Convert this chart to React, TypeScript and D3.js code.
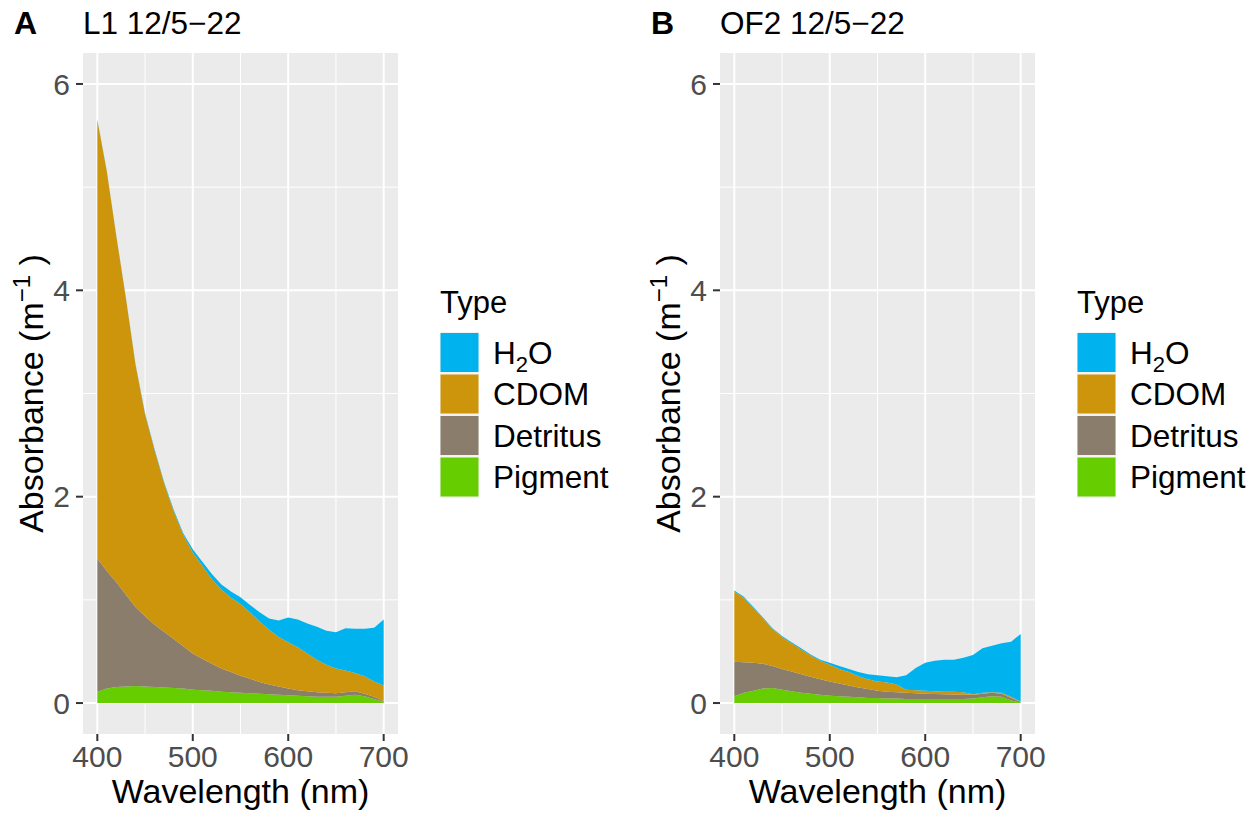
import React from 'react';
import * as d3 from 'd3';

const WAVELENGTHS = [400, 410, 420, 430, 440, 450, 460, 470, 480, 490, 500, 510, 520, 530, 540, 550, 560, 570, 580, 590, 600, 610, 620, 630, 640, 650, 660, 670, 680, 690, 700];

const TYPES = ['H2O', 'CDOM', 'Detritus', 'Pigment'];
const TYPE_COLORS = ['#00B2EE', '#CD950C', '#8B7D6B', '#66CD00'];
const STACK_ORDER = ['Pigment', 'Detritus', 'CDOM', 'H2O'];

const X_TICKS = [400, 500, 600, 700];
const X_MINOR = [450, 550, 650];
const Y_TICKS = [0, 2, 4, 6];
const Y_MINOR = [1, 3, 5];

// Panel A: L1 12/5-22
const L1_PIGMENT = [0.11, 0.14, 0.155, 0.16, 0.165, 0.16, 0.155, 0.15, 0.145, 0.14, 0.13, 0.125, 0.12, 0.11, 0.105, 0.10, 0.095, 0.09, 0.085, 0.08, 0.075, 0.07, 0.065, 0.06, 0.06, 0.06, 0.07, 0.08, 0.065, 0.04, 0.01];
const L1_DETRITUS = [1.29, 1.14, 1.015, 0.89, 0.765, 0.68, 0.605, 0.54, 0.475, 0.41, 0.35, 0.305, 0.26, 0.225, 0.195, 0.165, 0.14, 0.115, 0.095, 0.08, 0.065, 0.055, 0.05, 0.045, 0.04, 0.035, 0.035, 0.035, 0.025, 0.02, 0.01];
const L1_CDOM = [4.25, 3.87, 3.35, 2.87, 2.35, 1.96, 1.69, 1.44, 1.24, 1.08, 0.98, 0.90, 0.82, 0.765, 0.72, 0.695, 0.645, 0.585, 0.53, 0.48, 0.45, 0.415, 0.365, 0.315, 0.27, 0.24, 0.21, 0.175, 0.17, 0.15, 0.15];
const L1_H2O = [0.006, 0.005, 0.005, 0.006, 0.007, 0.009, 0.01, 0.011, 0.013, 0.016, 0.03, 0.04, 0.05, 0.05, 0.06, 0.065, 0.07, 0.09, 0.11, 0.16, 0.24, 0.27, 0.29, 0.32, 0.33, 0.35, 0.41, 0.43, 0.46, 0.52, 0.64];

// Panel B: OF2 12/5-22
const OF2_PIGMENT = [0.065, 0.10, 0.12, 0.14, 0.145, 0.13, 0.115, 0.10, 0.09, 0.08, 0.07, 0.065, 0.06, 0.055, 0.05, 0.05, 0.045, 0.045, 0.04, 0.04, 0.04, 0.04, 0.04, 0.04, 0.04, 0.045, 0.055, 0.065, 0.06, 0.025, 0.005];
const OF2_DETRITUS = [0.335, 0.295, 0.27, 0.24, 0.215, 0.20, 0.19, 0.18, 0.165, 0.15, 0.14, 0.125, 0.11, 0.095, 0.085, 0.07, 0.065, 0.06, 0.06, 0.055, 0.05, 0.048, 0.045, 0.043, 0.04, 0.035, 0.035, 0.035, 0.03, 0.025, 0.005];
const OF2_CDOM = [0.68, 0.625, 0.53, 0.44, 0.36, 0.31, 0.275, 0.24, 0.205, 0.18, 0.16, 0.14, 0.13, 0.11, 0.095, 0.09, 0.09, 0.075, 0.03, 0.03, 0.03, 0.027, 0.025, 0.027, 0.025, 0.005, 0.01, 0.005, 0.01, 0.01, 0.005];
const OF2_H2O = [0.01, 0.01, 0.01, 0.01, 0.005, 0.01, 0.01, 0.01, 0.01, 0.01, 0.02, 0.03, 0.03, 0.04, 0.05, 0.06, 0.06, 0.07, 0.14, 0.215, 0.27, 0.295, 0.31, 0.31, 0.335, 0.38, 0.43, 0.45, 0.48, 0.535, 0.655];

const FONT = '"Liberation Sans", Arial, Helvetica, sans-serif';

type Series = { H2O: number[]; CDOM: number[]; Detritus: number[]; Pigment: number[] };

const PANELS = [
  { tag: 'A', title: 'L1 12/5\u221222', left: 83, series: { H2O: L1_H2O, CDOM: L1_CDOM, Detritus: L1_DETRITUS, Pigment: L1_PIGMENT } as Series },
  { tag: 'B', title: 'OF2 12/5\u221222', left: 720, series: { H2O: OF2_H2O, CDOM: OF2_CDOM, Detritus: OF2_DETRITUS, Pigment: OF2_PIGMENT } as Series },
];

const PANEL_W = 315;
const PANEL_TOP = 53;
const PANEL_BOTTOM = 734;

function Panel({ idx, tag, title, left, series }: { idx: number; tag: string; title: string; left: number; series: Series }) {
  const right = left + PANEL_W;
  const x = d3.scaleLinear().domain([385, 715]).range([left, right]);
  const y = d3.scaleLinear().domain([-0.3, 6.3]).range([PANEL_BOTTOM, PANEL_TOP]);

  const rows = WAVELENGTHS.map((w, i) => ({
    w,
    H2O: series.H2O[i],
    CDOM: series.CDOM[i],
    Detritus: series.Detritus[i],
    Pigment: series.Pigment[i],
  }));
  const stacked = d3.stack<any>().keys(STACK_ORDER)(rows);
  const area = d3
    .area<any>()
    .x((d) => x(d.data.w))
    .y0((d) => y(d[0]))
    .y1((d) => y(d[1]));

  const tickFs = 30;
  const titleFs = 34;
  const legendX = left + 357;
  const keyTop = 333;
  const keyPitch = 41.5;
  const labelFs = 31.5;
  const clipId = `clip-${idx}`;

  return (
    <g>
      <defs>
        <clipPath id={clipId}>
          <rect x={left} y={PANEL_TOP} width={PANEL_W} height={PANEL_BOTTOM - PANEL_TOP} />
        </clipPath>
      </defs>
      <rect x={left} y={PANEL_TOP} width={PANEL_W} height={PANEL_BOTTOM - PANEL_TOP} fill="#EBEBEB" />
      {X_MINOR.map((t) => (
        <line key={'xm' + t} x1={x(t)} x2={x(t)} y1={PANEL_TOP} y2={PANEL_BOTTOM} stroke="#fff" strokeWidth={1} />
      ))}
      {Y_MINOR.map((t) => (
        <line key={'ym' + t} x1={left} x2={right} y1={y(t)} y2={y(t)} stroke="#fff" strokeWidth={1} />
      ))}
      {X_TICKS.map((t) => (
        <line key={'xg' + t} x1={x(t)} x2={x(t)} y1={PANEL_TOP} y2={PANEL_BOTTOM} stroke="#fff" strokeWidth={2} />
      ))}
      {Y_TICKS.map((t) => (
        <line key={'yg' + t} x1={left} x2={right} y1={y(t)} y2={y(t)} stroke="#fff" strokeWidth={2} />
      ))}
      <g clipPath={`url(#${clipId})`}>
        {stacked.map((s) => (
          <path key={s.key} d={area(s) || ''} fill={TYPE_COLORS[TYPES.indexOf(s.key)]} />
        ))}
      </g>
      {/* x axis */}
      {X_TICKS.map((t) => (
        <g key={'xt' + t}>
          <line x1={x(t)} x2={x(t)} y1={PANEL_BOTTOM} y2={PANEL_BOTTOM + 7} stroke="#333" strokeWidth={2} />
          <text x={x(t)} y={767} textAnchor="middle" fontSize={tickFs} fill="#4D4D4D" fontFamily={FONT}>
            {t}
          </text>
        </g>
      ))}
      {/* y axis */}
      {Y_TICKS.map((t) => (
        <g key={'yt' + t}>
          <line x1={left - 7} x2={left} y1={y(t)} y2={y(t)} stroke="#333" strokeWidth={2} />
          <text x={left - 13} y={y(t) + tickFs * 0.36} textAnchor="end" fontSize={tickFs} fill="#4D4D4D" fontFamily={FONT}>
            {t}
          </text>
        </g>
      ))}
      <text x={(left + right) / 2} y={803} textAnchor="middle" fontSize={titleFs} fill="#000" fontFamily={FONT}>
        Wavelength (nm)
      </text>
      <text
        transform={`translate(${left - 40},${(PANEL_TOP + PANEL_BOTTOM) / 2}) rotate(-90)`}
        textAnchor="middle"
        fontSize={titleFs}
        fill="#000"
        fontFamily={FONT}
      >
        Absorbance (m
        <tspan dy={-13} fontSize={24}>{'\u22121'}</tspan>
        <tspan dy={13}>{' )'}</tspan>
      </text>
      {/* tag + title */}
      <text x={left - 69} y={34} fontSize={32} fontWeight="bold" fill="#000" fontFamily={FONT}>
        {tag}
      </text>
      <text x={left} y={34} fontSize={31.5} fill="#000" fontFamily={FONT}>
        {title}
      </text>
      {/* legend */}
      <text x={legendX} y={313} fontSize={31} fill="#000" fontFamily={FONT}>
        Type
      </text>
      {TYPES.map((tp, i) => {
        const ky = keyTop + i * keyPitch;
        return (
          <g key={'lg' + tp}>
            <rect x={legendX} y={ky - 1} width={39} height={keyPitch} fill="#F2F2F2" />
            <rect x={legendX + 0.5} y={ky} width={38} height={39} fill={TYPE_COLORS[i]} />
            <text x={legendX + 53} y={ky + 19.5 + 11} fontSize={labelFs} fill="#000" fontFamily={FONT}>
              {tp === 'H2O' ? (
                <>
                  H<tspan dy={8} fontSize={22}>2</tspan>
                  <tspan dy={-8}>O</tspan>
                </>
              ) : (
                tp
              )}
            </text>
          </g>
        );
      })}
    </g>
  );
}

export default function App() {
  return (
    <svg
      width={1257}
      height={815}
      style={{ position: 'absolute', left: 0, top: 0, background: '#fff', display: 'block' }}
    >
      <rect x={0} y={0} width={1257} height={815} fill="#fff" />
      {PANELS.map((p, i) => (
        <Panel key={p.tag} idx={i} {...p} />
      ))}
    </svg>
  );
}
